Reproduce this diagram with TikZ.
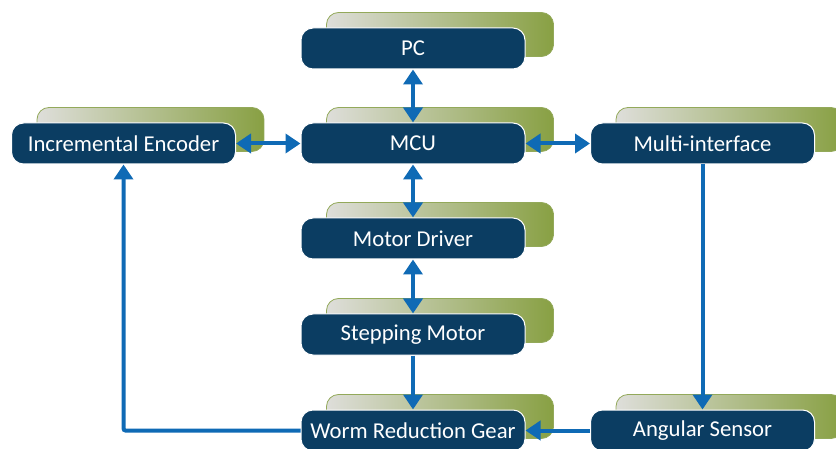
\documentclass[tikz,border=0pt]{standalone}
\usepackage{fontspec}
\setmainfont{Carlito}
\usetikzlibrary{arrows.meta,calc,backgrounds}
\definecolor{navy}{HTML}{0B3D62}
\definecolor{arrowblue}{HTML}{0F6AB5}
\definecolor{lightgray}{HTML}{DEDEDA}
\definecolor{olive}{HTML}{88A043}
\definecolor{oliveedge}{HTML}{93A95A}
\tikzset{
  darkbox/.style={rounded corners=12pt, fill=navy, draw=white, line width=1pt,
    minimum width=224pt, minimum height=41pt, inner sep=0pt, text=white,
    font=\fontsize{22.7}{26}\selectfont},
  greenbox/.style={rounded corners=12pt, left color=lightgray, right color=olive,
    draw=oliveedge, line width=0.8pt},
  conn/.style={draw=arrowblue, line width=4pt,
    arrows={-Triangle[width=19pt,length=15pt]}},
  biconn/.style={conn, arrows={Triangle[width=19pt,length=15pt]-Triangle[width=19pt,length=15pt]}},
  plainconn/.style={draw=arrowblue, line width=4pt}
}
\begin{document}
\begin{tikzpicture}[x=1pt,y=-1pt]
\useasboundingbox (0,0) rectangle (836,449);
\node[darkbox] (pc)  at (413,48.5) {PC};
\node[darkbox] (mcu) at (413,143.5) {MCU};
\node[darkbox] (enc) at (123.5,143.5) {Incremental Encoder};
\node[darkbox] (multi) at (702.5,143.5) {Multi-interface};
\node[darkbox] (drv) at (413,238.5) {Motor Driver};
\node[darkbox] (step) at (413,334.5) {Stepping Motor};
\node[darkbox] (worm) at (413,430.5) {Worm Reduction Gear};
\node[darkbox] (ang) at (702.5,430.5) {Angular Sensor};
\begin{scope}[on background layer]
\foreach \n in {pc,mcu,enc,multi,drv,step,worm,ang}{
  \path[greenbox] ($(\n.north west)+(26,-15)$) rectangle ($(\n.south east)+(28,-13)$);
}
\end{scope}
\draw[biconn] (pc) -- (mcu);
\draw[biconn] (enc) -- (mcu);
\draw[biconn] (mcu) -- (multi);
\draw[biconn] (mcu) -- (drv);
\draw[biconn] (drv) -- (step);
\draw[conn] (step) -- (worm);
\draw[conn] (multi) -- (ang);
\draw[conn] (ang) -- (worm);
\draw[conn, rounded corners=2pt] (worm.west) -| (enc.south);
\end{tikzpicture}
\end{document}
